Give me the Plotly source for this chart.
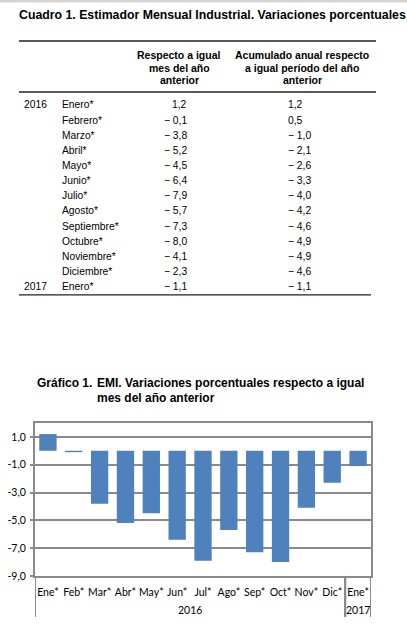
import plotly.graph_objects as go

W, H = 407, 644

# ---------------- data ----------------
table_title = "Cuadro 1. Estimador Mensual Industrial. Variaciones porcentuales"
header_col1 = ["Respecto a igual", "mes del año", "anterior"]
header_col2 = ["Acumulado anual respecto", "a igual período del año", "anterior"]
row_years = ["2016", "", "", "", "", "", "", "", "", "", "", "", "2017"]
row_months = ["Enero*", "Febrero*", "Marzo*", "Abril*", "Mayo*", "Junio*", "Julio*",
              "Agosto*", "Septiembre*", "Octubre*", "Noviembre*", "Diciembre*", "Enero*"]
var_mensual = [1.2, -0.1, -3.8, -5.2, -4.5, -6.4, -7.9, -5.7, -7.3, -8.0, -4.1, -2.3, -1.1]
var_acumulada = [1.2, 0.5, -1.0, -2.1, -2.6, -3.3, -4.0, -4.2, -4.6, -4.9, -4.9, -4.6, -1.1]

chart_label = "Gráfico 1."
chart_title = ["EMI. Variaciones porcentuales respecto a igual", "mes del año anterior"]
cat_labels = ["Ene*", "Feb*", "Mar*", "Abr*", "May*", "Jun*", "Jul*", "Ago*",
              "Sep*", "Oct*", "Nov*", "Dic*", "Ene*"]
cat_years = ["2016"] * 12 + ["2017"]
y_tickvals = [1, -1, -3, -5, -7, -9]
y_ticktext = ["1,0", "-1,0", "-3,0", "-5,0", "-7,0", "-9,0"]
y_range = [-9, 2]

# ---------------- helpers ----------------
K = 650 / 644  # vertical compensation for the capture

def px(x):
    return x / W

def py(y):
    return 1 - (y * K) / H

def fmt(v):
    s = f"{abs(v):.1f}".replace(".", ",")
    return ("\u2212 " + s) if v < 0 else s

TFONT = "Liberation Sans, Arial, sans-serif"
CFONT = "Lato, Calibri, sans-serif"
GRID = "#8a8a8a"

fig = go.Figure()
fig.add_trace(go.Bar(
    x=list(range(len(var_mensual))), y=var_mensual,
    marker=dict(color="#4F81BD", line=dict(width=0)),
    width=0.67, hoverinfo="skip",
))

ann = []
shapes = []

def note(text, x, y, xanchor="left", yanchor="middle", font=None, xref="paper", **kw):
    d = dict(text=text, x=x, y=y, xref=xref, yref="paper", xanchor=xanchor,
             yanchor=yanchor, showarrow=False, font=font, borderpad=0)
    d.update(kw)
    ann.append(d)

# faint top shadow
shapes.append(dict(type="rect", xref="paper", yref="paper", x0=0, x1=1, y0=py(2.5), y1=1,
                   fillcolor="#d4d4d4", line=dict(width=0), layer="below"))

# table title
note("<b>" + table_title + "</b>", px(18), py(15),
     font=dict(family=TFONT, size=12.3, color="#000"))
# table lines
for y0, x1 in [(41, 376), (92, 376), (295, 371)]:
    shapes.append(dict(type="line", xref="paper", yref="paper", x0=px(19), x1=px(x1),
                       y0=py(y0), y1=py(y0), line=dict(color="#222", width=1.3)))
# headers
HDR_Y = [55.5, 68, 80.5]
for lines, cx in [(header_col1, 179), (header_col2, 302)]:
    for ln, yy in zip(lines, HDR_Y):
        note("<b>" + ln + "</b>", px(cx), py(yy), xanchor="center",
             font=dict(family=TFONT, size=10.5, color="#000"))
# rows
ROW0, DROW = 105, 15.14
for i, (yr, mo, v1, v2) in enumerate(zip(row_years, row_months, var_mensual, var_acumulada)):
    yy = py(ROW0 + DROW * i)
    f = dict(family=TFONT, size=10.3, color="#000")
    if yr:
        note(yr, px(23), yy, font=f)
    note(mo, px(61), yy, font=f)
    note(fmt(v1), px(188), yy, xanchor="right", font=f)
    note(fmt(v2), px(287), yy, font=f)

# chart title
tf = dict(family=TFONT, size=12, color="#000")
note("<b>" + chart_label + "</b>", px(36), py(383), font=tf)
for ln, yy in zip(chart_title, [383, 398]):
    note("<b>" + ln + "</b>", px(96), py(yy), font=tf)

# year group labels and dividers below the chart
groups = []
for i, yv in enumerate(cat_years):
    if groups and groups[-1][0] == yv:
        groups[-1][2] = i
    else:
        groups.append([yv, i, i])
bottom_y = py(617)
axis_y = py(576)
for yv, i0, i1 in groups:
    note(yv, (i0 + i1) / 2, py(610), xanchor="center", xref="x",
         font=dict(family=CFONT, size=10.5, color="#000"))
    for xb in (i0 - 0.5, i1 + 0.5):
        shapes.append(dict(type="line", xref="x", yref="paper", x0=xb, x1=xb,
                           y0=bottom_y, y1=axis_y, line=dict(color=GRID, width=2)))

fig.update_layout(
    width=W, height=H, autosize=False,
    margin=dict(l=0, r=0, t=0, b=0),
    paper_bgcolor="white", plot_bgcolor="white",
    showlegend=False,
    annotations=ann, shapes=shapes,
    bargap=0.33,
    xaxis=dict(domain=[px(35), px(371)], range=[-0.5, len(cat_labels) - 0.5],
               tickvals=list(range(len(cat_labels))), ticktext=cat_labels,
               showgrid=False, zeroline=False, showline=True, mirror=True,
               linecolor=GRID, linewidth=2, ticks="", ticklabelstandoff=5,
               tickfont=dict(family=CFONT, size=10.5, color="#000"), fixedrange=True),
    yaxis=dict(domain=[py(576), py(423)], range=y_range,
               tickvals=y_tickvals, ticktext=y_ticktext,
               showgrid=True, gridcolor=GRID, gridwidth=2, zeroline=False,
               showline=True, mirror=True, linecolor=GRID, linewidth=2,
               ticks="outside", ticklen=3, tickwidth=2, tickcolor=GRID,
               ticklabelstandoff=2,
               tickfont=dict(family=CFONT, size=10.5, color="#000"), fixedrange=True),
)

page_fix = (
    "document.documentElement.style.margin='0px';"
    "document.documentElement.style.padding='0px';"
    "document.documentElement.style.height='644px';"
    "document.documentElement.style.overflow='hidden';"
    "document.body.style.margin='0px';"
    "document.body.style.padding='0px';"
    "document.body.style.height='644px';"
    "document.body.style.overflow='hidden';"
)
fig.write_html("out.html", config={"displayModeBar": False, "staticPlot": True},
               post_script=page_fix)
